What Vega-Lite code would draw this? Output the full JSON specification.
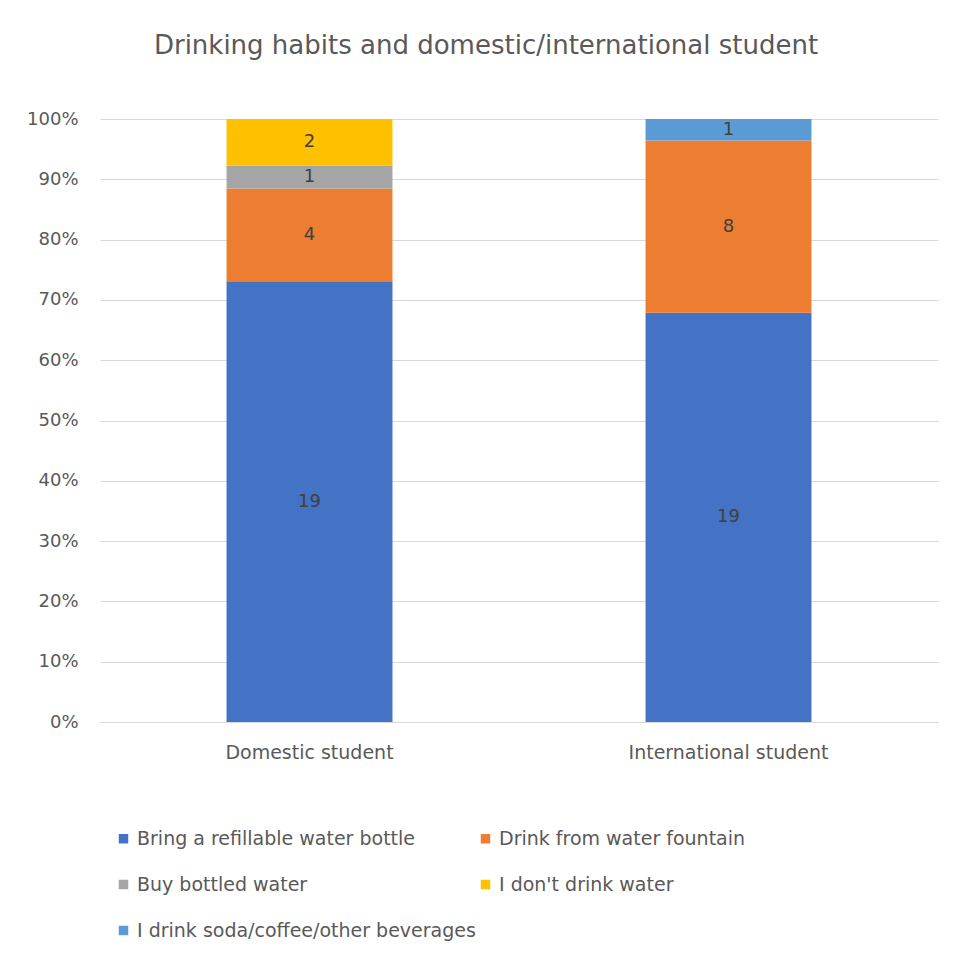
{
  "$schema": "https://vega.github.io/schema/vega-lite/v6.json",
  "autosize": "none",
  "width": 838,
  "height": 603,
  "padding": {"left": 100, "top": 119, "right": 20, "bottom": 239},
  "background": "white",
  "title": {
    "text": "Drinking habits and domestic/international student",
    "font": "DejaVu Sans",
    "fontSize": 26,
    "fontWeight": "normal",
    "color": "#595959",
    "anchor": "middle",
    "dx": -33,
    "offset": 51
  },
  "data": {
    "values": [
      {"group": "Domestic student", "habit": "Bring a refillable water bottle", "order": 1, "count": 19},
      {"group": "Domestic student", "habit": "Drink from water fountain", "order": 2, "count": 4},
      {"group": "Domestic student", "habit": "Buy bottled water", "order": 3, "count": 1},
      {"group": "Domestic student", "habit": "I don't drink water", "order": 4, "count": 2},
      {"group": "International student", "habit": "Bring a refillable water bottle", "order": 1, "count": 19},
      {"group": "International student", "habit": "Drink from water fountain", "order": 2, "count": 8},
      {"group": "International student", "habit": "I drink soda/coffee/other beverages", "order": 5, "count": 1}
    ]
  },
  "transform": [
    {"stack": "count", "groupby": ["group"], "sort": [{"field": "order"}], "offset": "normalize", "as": ["y0", "y1"]},
    {"calculate": "(datum.y0 + datum.y1) / 2", "as": "ymid"}
  ],
  "encoding": {
    "x": {
      "field": "group",
      "type": "nominal",
      "scale": {"paddingInner": 0.604, "paddingOuter": 0.302},
      "axis": {
        "title": null,
        "labelAngle": 0,
        "labelFont": "DejaVu Sans",
        "labelFontSize": 19,
        "labelColor": "#595959",
        "labelLimit": 400,
        "ticks": false,
        "domain": true,
        "domainColor": "#D9D9D9",
        "labelPadding": 21
      }
    }
  },
  "layer": [
    {
      "mark": {"type": "bar"},
      "encoding": {
        "y": {
          "field": "y0",
          "type": "quantitative",
          "scale": {"domain": [0, 1], "nice": false},
          "axis": {
            "title": null,
            "format": ".0%",
            "values": [0, 0.1, 0.2, 0.3, 0.4, 0.5, 0.6, 0.7, 0.8, 0.9, 1],
            "labelFont": "DejaVu Sans",
            "labelFontSize": 18,
            "labelColor": "#595959",
            "ticks": false,
            "domain": false,
            "grid": true,
            "gridColor": "#D9D9D9",
            "labelPadding": 22
          }
        },
        "y2": {"field": "y1"},
        "color": {
          "field": "habit",
          "type": "nominal",
          "scale": {
            "domain": ["Bring a refillable water bottle", "Drink from water fountain", "Buy bottled water", "I don't drink water", "I drink soda/coffee/other beverages"],
            "range": ["#4472C4", "#ED7D31", "#A5A5A5", "#FFC000", "#5B9BD5"]
          },
          "legend": {
            "title": null,
            "orient": "none",
            "legendX": 14,
            "legendY": 710,
            "columns": 2,
            "direction": "horizontal",
            "symbolType": "square",
            "symbolSize": 90,
            "symbolStrokeWidth": 0,
            "labelFont": "DejaVu Sans",
            "labelFontSize": 19,
            "labelColor": "#595959",
            "labelLimit": 500,
            "rowPadding": 26,
            "columnPadding": 0
          }
        }
      }
    },
    {
      "mark": {"type": "text", "font": "DejaVu Sans", "fontSize": 18, "color": "#404040"},
      "encoding": {
        "y": {"field": "ymid", "type": "quantitative"},
        "text": {"field": "count", "type": "quantitative"}
      }
    }
  ],
  "config": {
    "view": {"stroke": null}
  }
}
